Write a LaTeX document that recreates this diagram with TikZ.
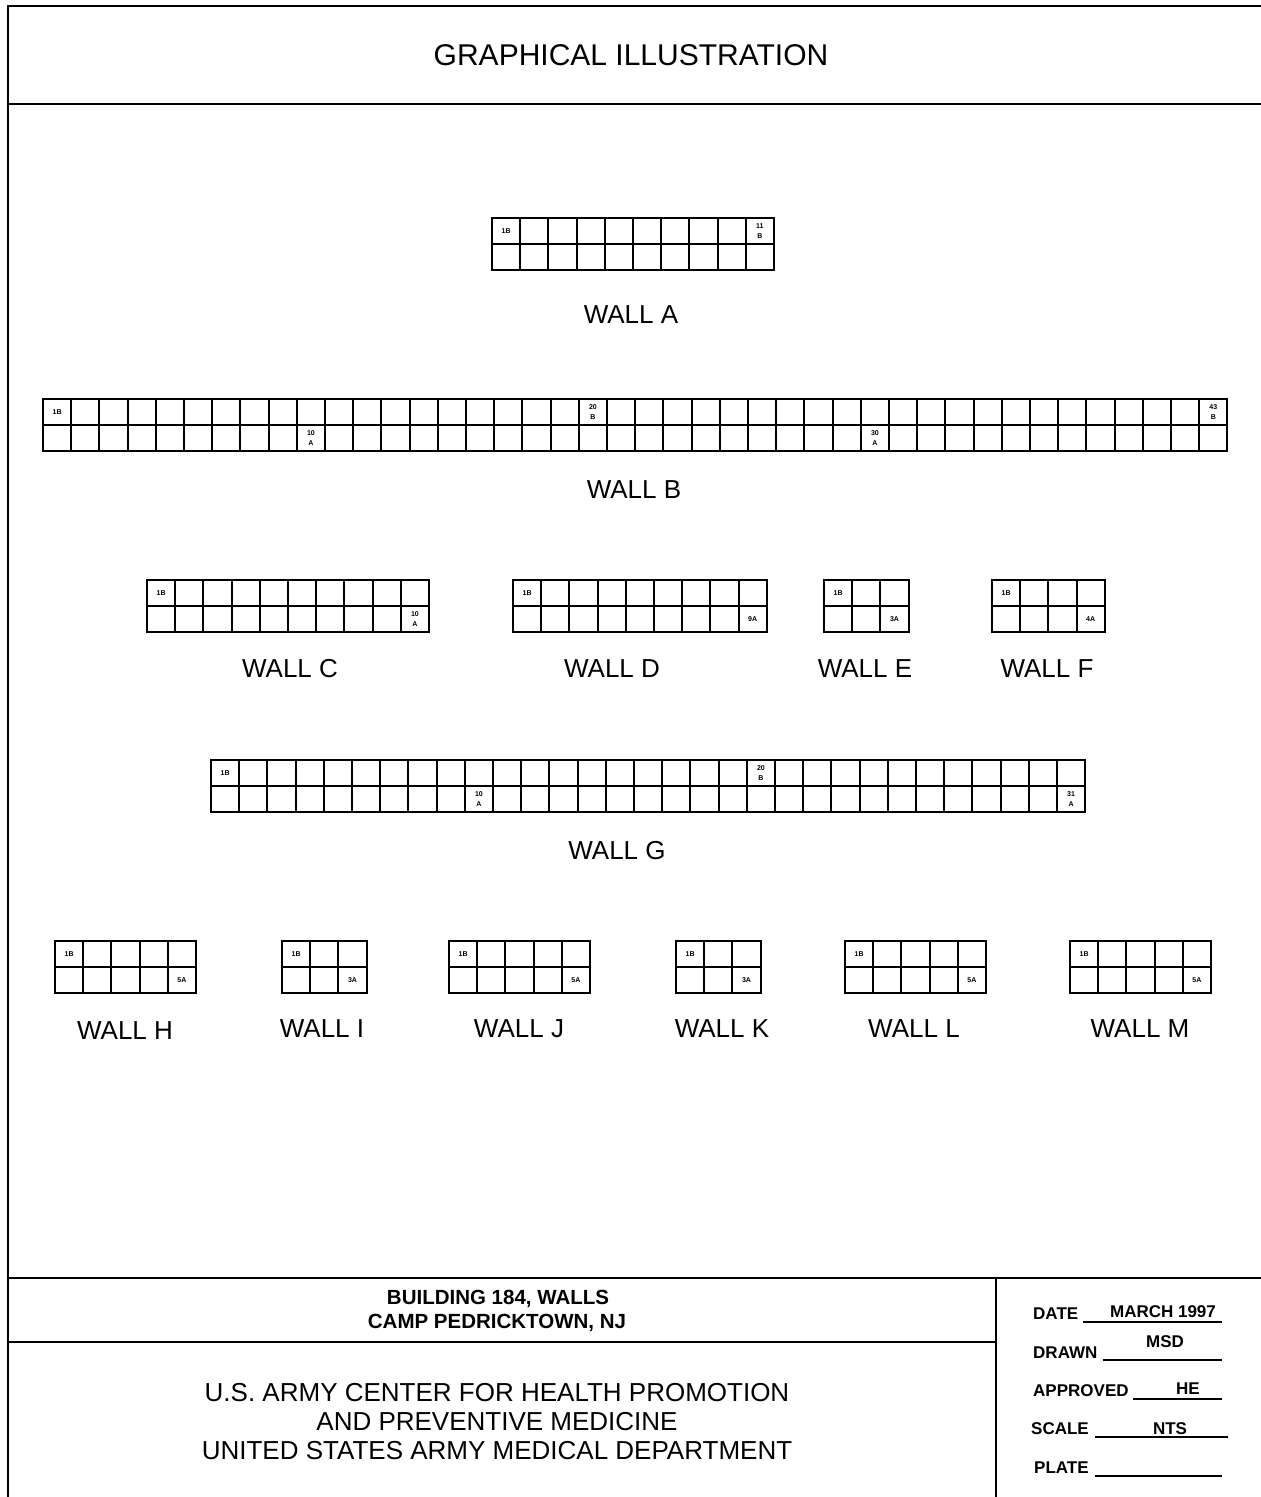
\documentclass[tikz,border=0pt]{standalone}
\usepackage{fontspec}
\setmainfont{Liberation Sans}
\usetikzlibrary{calc}

\begin{document}
\begin{tikzpicture}[x=1pt,y=-1pt,
  frame/.style={line width=1.7pt},
  wallgrid/.style={line width=2pt},
  rule/.style={line width=1.3pt},
  tag/.style={font=\bfseries\fontsize{7}{9.5}\selectfont,inner sep=0pt,align=center},
  walllabel/.style={font=\fontsize{26}{26}\selectfont,inner sep=0pt,anchor=base},
  heading/.style={font=\fontsize{30}{30}\selectfont,inner sep=0pt,anchor=base},
  bldgtext/.style={font=\bfseries\fontsize{20.5}{20.5}\selectfont,inner sep=0pt,anchor=base},
  agency/.style={font=\fontsize{26}{26}\selectfont,inner sep=0pt,anchor=base},
  info/.style={font=\bfseries\fontsize{17}{17}\selectfont,inner sep=0pt,anchor=base west},
  infoval/.style={font=\bfseries\fontsize{17}{17}\selectfont,inner sep=0pt,anchor=base}]
  \useasboundingbox (0,0) rectangle (1261,1497);
  \def\cw{28.2}

  % sheet frame
  \draw[frame] (1261,6) -- (8,6) -- (8,1497);
  \draw[frame] (8,104) -- (1261,104);
  \draw[frame] (8,1278) -- (1261,1278);
  \draw[frame] (8,1342) -- (996,1342);
  \draw[frame] (996,1278) -- (996,1497);

  \node[heading] (title) at (631,65) {GRAPHICAL ILLUSTRATION};

  % walls: name/x/y/cells/label x/label y
  \foreach \wn/\wx/\wy/\wc/\lx/\ly in {A/492/218/10/631/323, B/43/399/42/634/498,
      C/147/580/10/290/677, D/513/580/9/612/677, E/824/580/3/865/677, F/992/580/4/1047/677,
      G/211/760/31/617/859, H/55/941/5/125/1039, I/282/941/3/322/1037, J/449/941/5/519/1037,
      K/676/941/3/722/1037, L/845/941/5/914/1037, M/1070/941/5/1140/1037} {
    \coordinate (o\wn) at (\wx,\wy);
    \draw[wallgrid] (\wx,\wy) rectangle ++({\wc*\cw},52);
    \draw[wallgrid] (\wx,\wy+26) -- ++({\wc*\cw},0);
    \pgfmathtruncatemacro\wlast{\wc-1}
    \foreach \i in {1,...,\wlast}
      \draw[wallgrid] ({\wx+\i*\cw},\wy) -- ++(0,52);
    \node[tag] at ({\wx+0.5*\cw},\wy+13) {1B};
    \node[walllabel] (wall\wn) at (\lx,\ly) {WALL \wn};
  }

  % cell numbers
  \node[tag] at ($(oA)+(9.5*\cw,13)$) {11\\B};
  \node[tag] at ($(oB)+(9.5*\cw,39)$) {10\\A};
  \node[tag] at ($(oB)+(19.5*\cw,13)$) {20\\B};
  \node[tag] at ($(oB)+(29.5*\cw,39)$) {30\\A};
  \node[tag] at ($(oB)+(41.5*\cw,13)$) {43\\B};
  \node[tag] at ($(oC)+(9.5*\cw,39)$) {10\\A};
  \node[tag] at ($(oD)+(8.5*\cw,39)$) {9A};
  \node[tag] at ($(oE)+(2.5*\cw,39)$) {3A};
  \node[tag] at ($(oF)+(3.5*\cw,39)$) {4A};
  \node[tag] at ($(oG)+(9.5*\cw,39)$) {10\\A};
  \node[tag] at ($(oG)+(19.5*\cw,13)$) {20\\B};
  \node[tag] at ($(oG)+(30.5*\cw,39)$) {31\\A};
  \node[tag] at ($(oH)+(4.5*\cw,39)$) {5A};
  \node[tag] at ($(oI)+(2.5*\cw,39)$) {3A};
  \node[tag] at ($(oJ)+(4.5*\cw,39)$) {5A};
  \node[tag] at ($(oK)+(2.5*\cw,39)$) {3A};
  \node[tag] at ($(oL)+(4.5*\cw,39)$) {5A};
  \node[tag] at ($(oM)+(4.5*\cw,39)$) {5A};

  % title block
  \node[bldgtext] (bldg) at (498,1304) {BUILDING 184, WALLS};
  \node[bldgtext] (camp) at (497,1328) {CAMP PEDRICKTOWN, NJ};
  \node[agency] (chppm) at (497,1401) {U.S. ARMY CENTER FOR HEALTH PROMOTION};
  \node[agency] (prevmed) at (497,1430) {AND PREVENTIVE MEDICINE};
  \node[agency] (amedd) at (497,1459) {UNITED STATES ARMY MEDICAL DEPARTMENT};

  \node[info] (date) at (1033,1319) {DATE};
  \node[infoval] (dateval) at (1163,1317) {MARCH 1997};
  \draw[rule] (1083,1322) -- (1222,1322);
  \node[info] (drawn) at (1033,1358) {DRAWN};
  \node[infoval] (drawnval) at (1165,1347) {MSD};
  \draw[rule] (1103,1360) -- (1222,1360);
  \node[info] (approved) at (1033,1396) {APPROVED};
  \node[infoval] (approvedval) at (1188,1394) {HE};
  \draw[rule] (1133,1399) -- (1222,1399);
  \node[info] (scale) at (1031,1434) {SCALE};
  \node[infoval] (scaleval) at (1170,1434) {NTS};
  \draw[rule] (1095,1437) -- (1228,1437);
  \node[info] (plate) at (1034,1473) {PLATE};
  \draw[rule] (1095,1476) -- (1222,1476);
\end{tikzpicture}
\end{document}
